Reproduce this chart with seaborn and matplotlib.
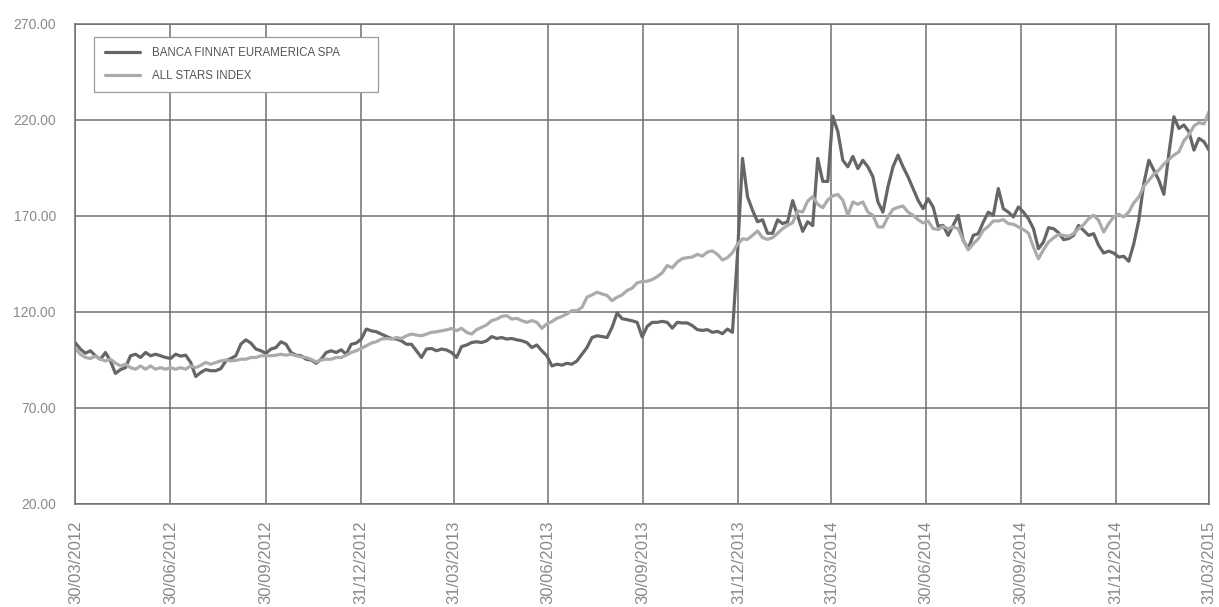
import numpy as np
import pandas as pd
import matplotlib
matplotlib.use("Agg")
import matplotlib.pyplot as plt
import seaborn as sns

# ---------------- data ----------------
start_date = "2012-03-30"
end_date = "2015-03-31"

series_labels = ["BANCA FINNAT EURAMERICA SPA", "ALL STARS INDEX"]

banca = [
    104, 100.7, 98.5, 99.8, 97.2, 95.4, 98.9, 94.5, 88, 90, 91, 97.2, 98, 96.3, 98.9, 97.2,
    98, 97.2, 96.3, 95.8, 98, 97, 97.5, 93.7, 86.4, 88.5, 90, 89.4, 89.4, 90.5, 94.5, 95.8,
    97.2, 103.3, 105.5, 103.8, 100.7, 99.8, 98.5,
    100.7, 101.5, 104.5, 103.2, 98.9, 97.5, 97.2, 95.4, 95, 93.3, 95.4, 98.9, 99.8, 98.9,
    100.3, 98, 103.2, 103.8, 105.9, 111.1, 110.2, 109.7, 108.5, 107.3, 106.2, 105.9, 105,
    103.2, 103.2, 99.8, 96.3, 100.7, 101, 99.8, 100.7, 100.2, 98.9,
    96.3, 102, 102.8, 104.1, 104.5, 104.1, 105, 107.2, 106.2, 106.7, 105.9, 106.2, 105.5,
    105, 104.1, 101.5, 102.8, 99.8, 97.2, 91.9, 92.8, 92.3, 93.3, 92.8, 94.5, 98, 101.5,
    106.7, 107.6, 107.2, 106.7, 112, 119.5, 116.5, 116, 115.4, 114.6, 107,
    112.5, 114.6, 114.6, 115.1, 114.6, 111.6, 114.6, 114.3, 114.3, 112.9, 110.8, 110.4,
    110.8, 109.4, 109.9, 108.7, 111.1, 109.4,
    150, 200, 180, 173, 167, 168, 161, 161, 168, 166, 167, 178, 170, 162, 167, 165, 200,
    188, 188, 222,
    214, 199, 195.6, 201, 194.7, 199, 195.6, 190.4, 177.3, 172, 185.2, 195.6, 201.7, 195.6,
    190.4, 184.3, 178.2, 173.8, 179, 174.7, 164.6, 165.1, 159.9, 165.1, 170.4, 157.3, 152.9,
    159.9, 160.8, 166.8, 172, 170.4, 184.3, 173.8, 172, 169.5, 174.7, 172,
    168.6, 163.4, 153, 156.4, 163.9, 163.4, 161.3, 157.7, 158.2, 159.9, 165.1, 162.5, 159.9,
    160.8, 154.7, 150.7, 151.7, 150.7, 148.6, 149, 146.4, 155.5, 167.7, 186.9, 199, 193.9,
    188.6, 181.3, 202.5, 221.7, 215.6, 217.4, 213.9, 204.3, 210.4, 208.7, 204.3,
]

all_stars = [
    101, 98, 96.3, 95.8, 97, 95.4, 94.5, 95.4, 93.4, 91.9, 92.8, 91, 90.2, 91.9, 90.2, 91.9,
    90.2, 91, 90.2, 91, 90.2, 91, 90.2, 91.9, 91, 92.2, 93.7, 92.8, 93.7, 94.5, 95, 94.5,
    94.8, 95.4, 95.4, 96.3, 96.3, 97.2, 97.2,
    97.2, 97.5, 98, 97.5, 98, 97.2, 96.6, 96.3, 95.4, 94, 95, 95.4, 95.4, 96.3, 96.3, 97.5,
    98.9, 99.8, 101, 102.4, 103.8, 104.5, 105.9, 106.2, 105.9, 106.7, 106.2, 107.6, 108.5,
    108, 107.6, 108.5, 109.4, 109.7, 110.2, 110.7, 111.4,
    110.3, 111.5, 109.4, 108.5, 110.8, 112, 113.3, 115.5, 116.3, 117.7, 118.1, 116.3, 116.7,
    115.5, 114.6, 115.5, 114.6, 111.5, 113.8, 115, 116.7, 117.7, 119, 120.7, 120.7, 122.4,
    127.7, 128.9, 130.3, 129.4, 128.6, 125.9, 127.7, 128.9, 131.2, 132.4, 135.2, 135.9,
    136, 136.9, 138.4, 140.4, 144.2, 143, 146, 147.8, 148.3, 148.6, 150, 149.1, 151.2,
    151.8, 150, 147.1, 148.3, 150.9, 155.2, 158.1, 157.8, 159.9, 162.2, 158.7, 157.8, 158.7,
    161, 163.4, 165.1, 166.5, 172.6, 172.1, 177.8, 180.1, 176.1, 174.3, 178.4, 180.5,
    181.2, 178.2, 170.4, 177.3, 176.1, 177.3, 172, 170.4, 164.3, 164.3, 169.5, 173.5, 174.5,
    175.2, 172, 170.4, 168.1, 166.4, 167.4, 163.4, 162.9, 164.6, 163.4, 164.3, 163.4, 157.3,
    152.4, 155.5, 158.1, 162.5, 164.6, 167.4, 167.4, 168.1, 166, 165.7, 164.3, 162.9,
    161.1, 153.8, 147.7, 152.4, 156.4, 158.6, 160.4, 159.9, 159.4, 160.8, 163.4, 165.5,
    168.6, 170.4, 167.7, 161.6, 166, 169.5, 170.9, 169.5, 172, 176.8, 179.9, 185.5, 188.6,
    191.7, 193.9, 197, 199.5, 201.7, 203.4, 209.2, 212.2, 216.9, 218.6, 217.9, 224.4,
]

tick_dates = [
    "2012-03-30", "2012-06-30", "2012-09-30", "2012-12-31",
    "2013-03-31", "2013-06-30", "2013-09-30", "2013-12-31",
    "2014-03-31", "2014-06-30", "2014-09-30", "2014-12-31", "2015-03-31",
]
y_ticks = [20, 70, 120, 170, 220, 270]

# ---------------- build table ----------------
n = min(len(banca), len(all_stars))
dates = pd.date_range(start_date, end_date, periods=n)
wide = pd.DataFrame({"date": dates,
                     series_labels[0]: banca[:n],
                     series_labels[1]: all_stars[:n]})
long = wide.melt(id_vars="date", var_name="series", value_name="value")

# ---------------- style ----------------
sns.set_theme(style="white")
plt.rcParams["font.family"] = ["Liberation Sans", "DejaVu Sans"]

grid_c = "#6f6f6f"
dark_c = "#666666"
light_c = "#ababab"
label_c = "#8a8a8a"

fig = plt.figure(figsize=(12.19, 6.07), dpi=100)
ax = fig.add_axes([0.0618, 0.1697, 0.9300, 0.7908])

sns.lineplot(data=long, x="date", y="value", hue="series",
             hue_order=series_labels, palette=[dark_c, light_c],
             linewidth=2.3, ax=ax, legend=True, errorbar=None)

ax.set_xlim(pd.Timestamp(start_date), pd.Timestamp(end_date))
ax.set_ylim(y_ticks[0], y_ticks[-1])
ax.set_yticks(y_ticks)
ax.set_yticklabels([f"{v:.2f}" for v in y_ticks])
tick_ts = pd.to_datetime(tick_dates)
ax.set_xticks(tick_ts)
ax.set_xticklabels([t.strftime("%d/%m/%Y") for t in tick_ts], rotation=90)
ax.set_xlabel("")
ax.set_ylabel("")

ax.grid(True, color=grid_c, linewidth=1.1)
ax.set_axisbelow(True)
for s in ax.spines.values():
    s.set_visible(True)
    s.set_color(grid_c)
    s.set_linewidth(1.1)

ax.tick_params(axis="y", length=0, pad=14, labelsize=10, labelcolor=label_c)
ax.tick_params(axis="x", length=0, pad=12, labelsize=12, labelcolor=label_c)
for lbl in ax.get_xticklabels():
    lbl.set_verticalalignment("top")

old = ax.get_legend()
handles = list(old.legend_handles)
labels = [t.get_text() for t in old.get_texts()]
old.remove()
leg = ax.legend(handles, labels, loc="upper left",
                bbox_to_anchor=(0.0168, 0.80, 0.2504, 0.1735), mode="expand",
                borderaxespad=0, frameon=True, fancybox=False, framealpha=1,
                edgecolor="#9a9a9a", facecolor="white", fontsize=8.3,
                handlelength=3.1, handletextpad=1.0, borderpad=0.9,
                labelspacing=0.95)
leg.get_frame().set_linewidth(0.9)
for h in leg.legend_handles:
    h.set_linewidth(2.3)
for t in leg.get_texts():
    t.set_color("#555555")

fig.savefig("out.png", dpi=100, facecolor="white")
